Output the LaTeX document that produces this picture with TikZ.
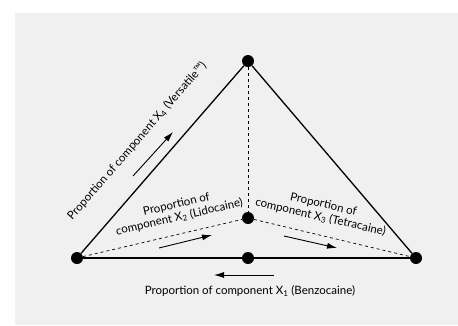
\documentclass[tikz,border=0pt]{standalone}
\usepackage{fontspec}
\setmainfont{Lato}
\usepackage{tikz}
\usetikzlibrary{arrows.meta, positioning}

\definecolor{panelgray}{HTML}{F0F0F0}

\begin{document}
\begin{tikzpicture}[
    x=1pt, y=-1pt,
    dot/.style={circle, fill=black, inner sep=0pt, minimum size=12pt},
    edge/.style={line width=1.3pt},
    inner/.style={dashed, line width=0.7pt},
    arrow/.style={-{Latex[length=10pt, width=6pt]}, line width=0.9pt},
    label/.style={font=\fontsize{11.5}{13}\selectfont, align=center, inner sep=1pt},
]

% Panel
\useasboundingbox (0,0) rectangle (458,325);
\fill[panelgray] (15,13) rectangle (458,325);

% Corners of the diagram
\node[dot] (top) at (248,61) {};
\node[dot] (left) at (77,258) {};
\node[dot] (right) at (416,258) {};
\node[dot] (mid) at (248,258) {};
\node[dot] (centre) at (248,218) {};

% Edges
\draw[inner] (top) -- (centre);
\draw[inner] (left) -- (centre) -- (right);
\draw[edge] (left) -- (top) -- (right);
\draw[edge] (left) -- (mid) -- (right);

% Component X4
\node[label, rotate=49] (labx4) at (137,141) {Proportion of component X\textsubscript{4} (Versatile\texttrademark)};
\coordinate (x4a) at (133,176);
\coordinate (x4b) at (173,132);
\draw[arrow] (x4a) -- (x4b);

% Component X2
\node[label, rotate=13] (labx2) at (178,211) {Proportion of\\component X\textsubscript{2} (Lidocaine)};
\coordinate (x2a) at (159,248);
\coordinate (x2b) at (212,235);
\draw[arrow] (x2a) -- (x2b);

% Component X3
\node[label, rotate=-13] (labx3) at (322,211) {Proportion of\\component X\textsubscript{3} (Tetracaine)};
\coordinate (x3a) at (284,236);
\coordinate (x3b) at (337,248);
\draw[arrow] (x3a) -- (x3b);

% Component X1
\coordinate (x1a) at (274,275);
\coordinate (x1b) at (214,275);
\draw[arrow] (x1a) -- (x1b);
\node[label] (labx1) at (250,291) {Proportion of component X\textsubscript{1} (Benzocaine)};

\end{tikzpicture}
\end{document}
